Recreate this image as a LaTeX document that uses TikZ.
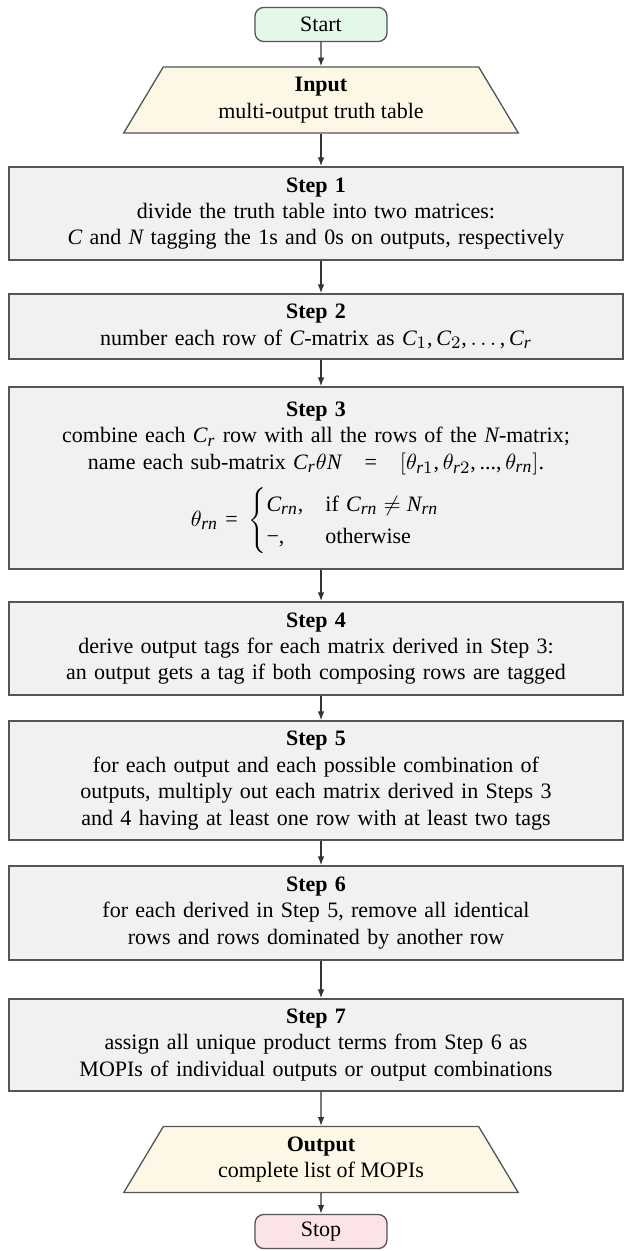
\documentclass[tikz,border=0pt]{standalone}
\usepackage{amsmath}
\usepackage{fontspec}
\setmainfont{Liberation Serif}
\IfFileExists{mathastext.sty}{\usepackage[italic]{mathastext}}{}
\usetikzlibrary{shapes.geometric,arrows.meta}
\newcommand{\myeq}{\mskip6mu\mathord{\textnormal{=}}\mskip6mu}
\newcommand{\myminus}{\mathord{\textnormal{\char"2212}}}
\definecolor{stepfill}{HTML}{F0F1F0}
\definecolor{boxline}{HTML}{555555}
\definecolor{startfill}{HTML}{E4F8EA}
\definecolor{stopfill}{HTML}{FCE4E6}
\definecolor{iofill}{HTML}{FDF8E6}
\definecolor{arrowcol}{HTML}{333333}
\tikzset{
  stepbox/.style={draw=boxline, fill=stepfill, line width=0.7pt, minimum width=279pt,
    text width=270pt, align=center, inner sep=0pt},
  termbox/.style={draw=boxline, line width=0.6pt, rounded corners=4pt, minimum width=60pt,
    minimum height=15.5pt, inner sep=0pt, align=center},
  iobox/.style={draw=boxline, fill=iofill, line width=0.6pt, trapezium, trapezium left angle=60.5,
    trapezium right angle=60.5, trapezium stretches=true, minimum width=179.5pt,
    minimum height=30pt, inner sep=0pt, align=center},
  flow/.style={draw=arrowcol, line width=0.6pt, -{Latex[length=4pt,width=3pt]}}
}
\begin{document}
\begin{tikzpicture}[x=0.4545pt,y=-0.4545pt]
\useasboundingbox (0,0) rectangle (628,1251);
\node[termbox, fill=startfill] (start) at (321,24.5) {Start};
\node[iobox] (input) at (321,100) {\textbf{Input}\\multi-output truth table};
\node[stepbox, minimum height=42.3pt] (s1) at (316,213.5) {\textbf{Step 1}\\
  divide the truth table into two matrices:\\
  $C$ and $N$ tagging the 1s and 0s on outputs, respectively};
\node[stepbox, minimum height=29.5pt] (s2) at (316,326.5) {\textbf{Step 2}\\
  number each row of $C$-matrix as $C_1, C_2, \ldots, C_r$};
\node[stepbox, minimum height=82.7pt] (s3) at (316,478) {\textbf{Step 3}\\
  combine each $C_r$ row with all the rows of the $N$-matrix;\\
  name each sub-matrix $C_r\theta N \;\myeq\; [\theta_{r1},\theta_{r2},...,\theta_{rn}]$.\\[5pt]
  $\theta_{rn} \myeq \begin{cases} C_{rn}, & \text{if } C_{rn}\neq N_{rn}\\ \myminus, & \text{otherwise}\end{cases}$};
\node[stepbox, minimum height=42.3pt] (s4) at (316,648.5) {\textbf{Step 4}\\
  derive output tags for each matrix derived in Step 3:\\
  an output gets a tag if both composing rows are tagged};
\node[stepbox, minimum height=54.1pt] (s5) at (316,780.5) {\textbf{Step 5}\\
  for each output and each possible combination of\\
  outputs, multiply out each matrix derived in Steps 3\\
  and 4 having at least one row with at least two tags};
\node[stepbox, minimum height=42.7pt] (s6) at (316,913) {\textbf{Step 6}\\
  for each derived in Step 5, remove all identical\\
  rows and rows dominated by another row};
\node[stepbox, minimum height=41.8pt] (s7) at (316,1045) {\textbf{Step 7}\\
  assign all unique product terms from Step 6 as\\
  MOPIs of individual outputs or output combinations};
\node[iobox] (output) at (321,1159.5) {\textbf{Output}\\complete list of MOPIs};
\node[termbox, fill=stopfill] (stop) at (321,1231.5) {Stop};
\draw[flow] (start) -- (input);
\draw[flow] (input.south) -- (input.south |- s1.north);
\draw[flow] (input.south |- s1.south) -- (input.south |- s2.north);
\draw[flow] (input.south |- s2.south) -- (input.south |- s3.north);
\draw[flow] (input.south |- s3.south) -- (input.south |- s4.north);
\draw[flow] (input.south |- s4.south) -- (input.south |- s5.north);
\draw[flow] (input.south |- s5.south) -- (input.south |- s6.north);
\draw[flow] (input.south |- s6.south) -- (input.south |- s7.north);
\draw[flow] (input.south |- s7.south) -- (output.north);
\draw[flow] (output) -- (stop);
\end{tikzpicture}
\end{document}
